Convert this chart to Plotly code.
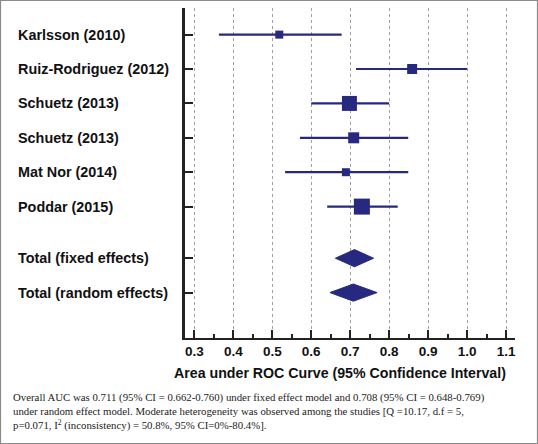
import plotly.graph_objects as go

# ---- data ----
studies = ["Karlsson (2010)", "Ruiz-Rodriguez (2012)", "Schuetz (2013)", "Schuetz (2013)",
           "Mat Nor (2014)", "Poddar (2015)"]
auc = [0.518, 0.859, 0.698, 0.709, 0.689, 0.730]
ci_low = [0.363, 0.715, 0.600, 0.571, 0.533, 0.641]
ci_high = [0.678, 1.000, 0.800, 0.849, 0.849, 0.822]

pooled_labels = ["Total (fixed effects)", "Total (random effects)"]
pooled_auc = [0.711, 0.708]
pooled_low = [0.662, 0.648]
pooled_high = [0.760, 0.769]

x_ticks = [0.3, 0.4, 0.5, 0.6, 0.7, 0.8, 0.9, 1.0, 1.1]
x_tick_labels = ["0.3", "0.4", "0.5", "0.6", "0.7", "0.8", "0.9", "1.0", "1.1"]

caption = ("Overall AUC was 0.711 (95% CI = 0.662-0.760) under fixed effect model and 0.708 (95% CI = 0.648-0.769)<br>"
           "under random effect model. Moderate heterogeneity was observed among the studies [Q =10.17, d.f = 5,<br>"
           "p=0.071, I<sup>2</sup> (inconsistency) = 50.8%, 95% CI=0%-80.4%].")

# ---- styles / layout ----
NAVY = "#27287F"
study_rows = [1, 2, 3, 4, 5, 6]
pooled_rows = [7.5, 8.5]
square_px = [8, 10, 15, 11, 8, 16]
diamond_half = 0.25
SANS = "Liberation Sans, Arial"

W, H = 538, 444
L, R, T, B = 185, 23, 8, 106
pw, ph = W - L - R, H - T - B

fig = go.Figure()

# CI lines
for lo, hi, row in zip(ci_low, ci_high, study_rows):
    fig.add_trace(go.Scatter(x=[lo, hi], y=[row, row], mode="lines",
                             line=dict(color=NAVY, width=2.2), showlegend=False, hoverinfo="skip"))
# squares
fig.add_trace(go.Scatter(x=auc, y=study_rows, mode="markers",
                         marker=dict(symbol="square", size=square_px, color=NAVY, opacity=1,
                                     line=dict(width=0, color=NAVY)),
                         showlegend=False))
# diamonds
for est, lo, hi, row in zip(pooled_auc, pooled_low, pooled_high, pooled_rows):
    fig.add_trace(go.Scatter(x=[lo, est, hi, est, lo], y=[row, row - diamond_half, row, row + diamond_half, row],
                             mode="lines", fill="toself", fillcolor=NAVY,
                             line=dict(color=NAVY, width=1), showlegend=False, hoverinfo="skip"))

annotations = []
for name, row in zip(studies + pooled_labels, study_rows + pooled_rows):
    annotations.append(dict(text=name, x=(16 - L) / pw, xref="paper", y=row, yref="y",
                            xanchor="left", yanchor="middle", showarrow=False,
                            font=dict(family=SANS, size=14.4, color="#111", weight="bold")))

annotations.append(dict(text="Area under ROC Curve (95% Confidence Interval)",
                        x=(340 - L) / pw, xref="paper", y=(H - B - 373) / ph, yref="paper",
                        xanchor="center", yanchor="middle", showarrow=False,
                        font=dict(family=SANS, size=14.2, color="#111", weight="bold")))
annotations.append(dict(text=caption, x=(11 - L) / pw, xref="paper", y=(H - B - 389) / ph, yref="paper",
                        xanchor="left", yanchor="top", align="left", showarrow=False,
                        font=dict(family="Liberation Serif, Times New Roman", size=10.8, color="#222")))
fig.update_layout(annotations=annotations)

# outer border
fig.add_shape(type="rect", xref="paper", yref="paper",
              x0=(0.5 - L) / pw, x1=(W - 0.5 - L) / pw,
              y0=(H - B - (H - 0.5)) / ph, y1=(H - B - 0.5) / ph,
              line=dict(color="#8a8a8a", width=1.2))

fig.update_xaxes(range=[0.276, 1.123], tickvals=x_ticks, ticktext=x_tick_labels,
                 ticks="inside", ticklen=8, tickwidth=2, tickcolor="#222",
                 showline=True, linecolor="#222", linewidth=2,
                 showgrid=True, gridcolor="#a0a0a0", griddash="dot", gridwidth=1,
                 zeroline=False,
                 minor=dict(ticks="inside", dtick=0.05, tick0=0.3, ticklen=4, tickwidth=1.5,
                            tickcolor="#222", showgrid=False),
                 tickfont=dict(family=SANS, size=13.5, color="#111", weight="bold"))
fig.update_yaxes(range=[9.82, 0.226], tickvals=study_rows + pooled_rows, showticklabels=False,
                 ticks="inside", ticklen=8, tickwidth=2, tickcolor="#222",
                 showline=True, linecolor="#222", linewidth=2.5,
                 showgrid=False, zeroline=False)

fig.update_layout(width=W, height=H, margin=dict(l=L, r=R, t=T, b=B),
                  plot_bgcolor="white", paper_bgcolor="white", showlegend=False)

fig.write_html("out.html", config={"displayModeBar": False},
               post_script="document.body.style.margin='0';")
